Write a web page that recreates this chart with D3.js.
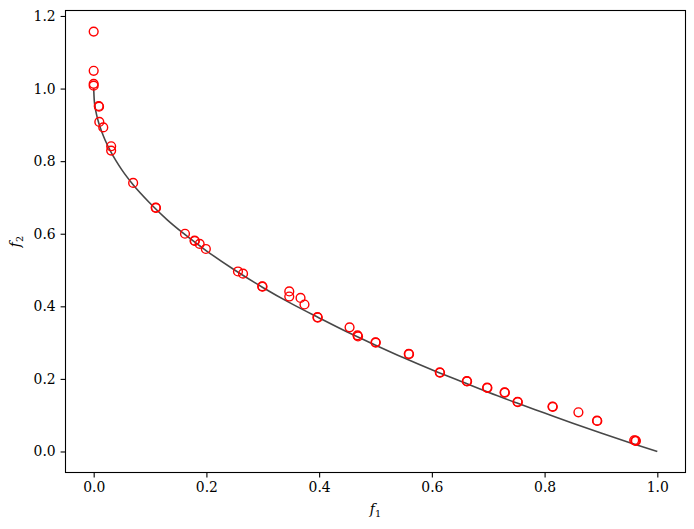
<!DOCTYPE html>
<html><head><meta charset="utf-8">
<script src="https://cdn.jsdelivr.net/npm/d3@7"></script>
<style>body{margin:0;background:#fff}svg{display:block}</style>
</head><body>
<script>
// Scatter points (obtained solutions)
const pointsF1 = [0.0,0.0,0.0,0.0,0.009,0.0095,0.010,0.017,0.031,0.031,0.070,0.110,0.1105,0.162,0.179,0.1795,0.188,0.199,0.256,0.265,0.299,0.2995,0.347,0.347,0.367,0.374,0.397,0.3975,0.454,0.468,0.469,0.500,0.5005,0.559,0.5595,0.614,0.6145,0.662,0.6625,0.698,0.6985,0.729,0.7295,0.752,0.7525,0.814,0.8145,0.860,0.893,0.8935,0.959,0.961,0.962];
const pointsF2 = [1.157,1.049,1.013,1.008,0.952,0.950,0.908,0.893,0.841,0.829,0.740,0.672,0.671,0.600,0.581,0.580,0.572,0.558,0.496,0.490,0.455,0.454,0.441,0.427,0.423,0.405,0.370,0.369,0.342,0.320,0.317,0.301,0.300,0.269,0.268,0.218,0.217,0.194,0.193,0.176,0.175,0.163,0.162,0.137,0.136,0.124,0.123,0.108,0.085,0.084,0.031,0.030,0.029];
// True front
const frontF1 = [0,0.001,0.003,0.005,0.01,0.015,0.02,0.03,0.04,0.05,0.07,0.1,0.13,0.16,0.2,0.25,0.3,0.35,0.4,0.45,0.5,0.55,0.6,0.65,0.7,0.75,0.8,0.85,0.9,0.95,1.0];
const frontF2 = [1,0.968,0.945,0.929,0.9,0.878,0.859,0.827,0.8,0.776,0.735,0.684,0.639,0.6,0.553,0.5,0.452,0.408,0.368,0.329,0.293,0.258,0.225,0.194,0.163,0.134,0.106,0.078,0.051,0.025,0.0];
const xTicks = [0,0.2,0.4,0.6,0.8,1.0];
const yTicks = [0,0.2,0.4,0.6,0.8,1.0,1.2];

const W=694,H=529;
const m={left:65.5,top:10.5,width:620,height:462};
const svg=d3.select("body").append("svg").attr("width",W).attr("height",H)
  .style("font-family","'DejaVu Serif'");
const x=d3.scaleLinear().domain([-0.05,1.05]).range([m.left,m.left+m.width]);
const y=d3.scaleLinear().domain([-0.0579,1.2151]).range([m.top+m.height,m.top]);

const g=svg.append("g");
// front line
const front=frontF1.map((v,i)=>[v,frontF2[i]]);
g.append("path").datum(front)
  .attr("d",d3.line().x(d=>x(d[0])).y(d=>y(d[1])).curve(d3.curveMonotoneX))
  .attr("fill","none").attr("stroke","#000").attr("stroke-opacity",0.72).attr("stroke-width",1.6);
// points
g.selectAll("circle.p").data(pointsF1.map((v,i)=>[v,pointsF2[i]])).enter().append("circle")
  .attr("cx",d=>x(d[0])).attr("cy",d=>y(d[1])).attr("r",4.4)
  .attr("fill","none").attr("stroke","red").attr("stroke-width",1.4);

// axes
const xAxis=d3.axisBottom(x).tickValues(xTicks).tickFormat(d3.format(".1f")).tickSize(4.9).tickPadding(4.9);
const yAxis=d3.axisLeft(y).tickValues(yTicks).tickFormat(d3.format(".1f")).tickSize(4.9).tickPadding(4.9);
const gx=svg.append("g").attr("transform",`translate(0,${m.top+m.height})`).call(xAxis);
const gy=svg.append("g").attr("transform",`translate(${m.left},0)`).call(yAxis);
[gx,gy].forEach(a=>{a.select(".domain").remove();
  a.selectAll("line").attr("stroke","#000").attr("stroke-width",1.1);
  a.selectAll("text").attr("font-family","'DejaVu Serif'").attr("font-size",13.9).attr("fill","#000");});
// frame
svg.append("rect").attr("x",m.left).attr("y",m.top).attr("width",m.width).attr("height",m.height)
  .attr("fill","none").attr("stroke","#000").attr("stroke-width",1.1);

// labels
const xl=svg.append("text").attr("x",m.left+m.width/2).attr("y",514).attr("text-anchor","middle")
  .attr("font-size",13.9);
xl.append("tspan").attr("font-style","italic").text("f");
xl.append("tspan").attr("font-size",9.7).attr("dy",2.5).text("1");
const yl=svg.append("text").attr("transform",`translate(20,${m.top+m.height/2}) rotate(-90)`).attr("text-anchor","middle")
  .attr("font-size",13.9);
yl.append("tspan").attr("font-style","italic").text("f");
yl.append("tspan").attr("font-size",9.7).attr("dy",2.5).text("2");
</script>
</body></html>
